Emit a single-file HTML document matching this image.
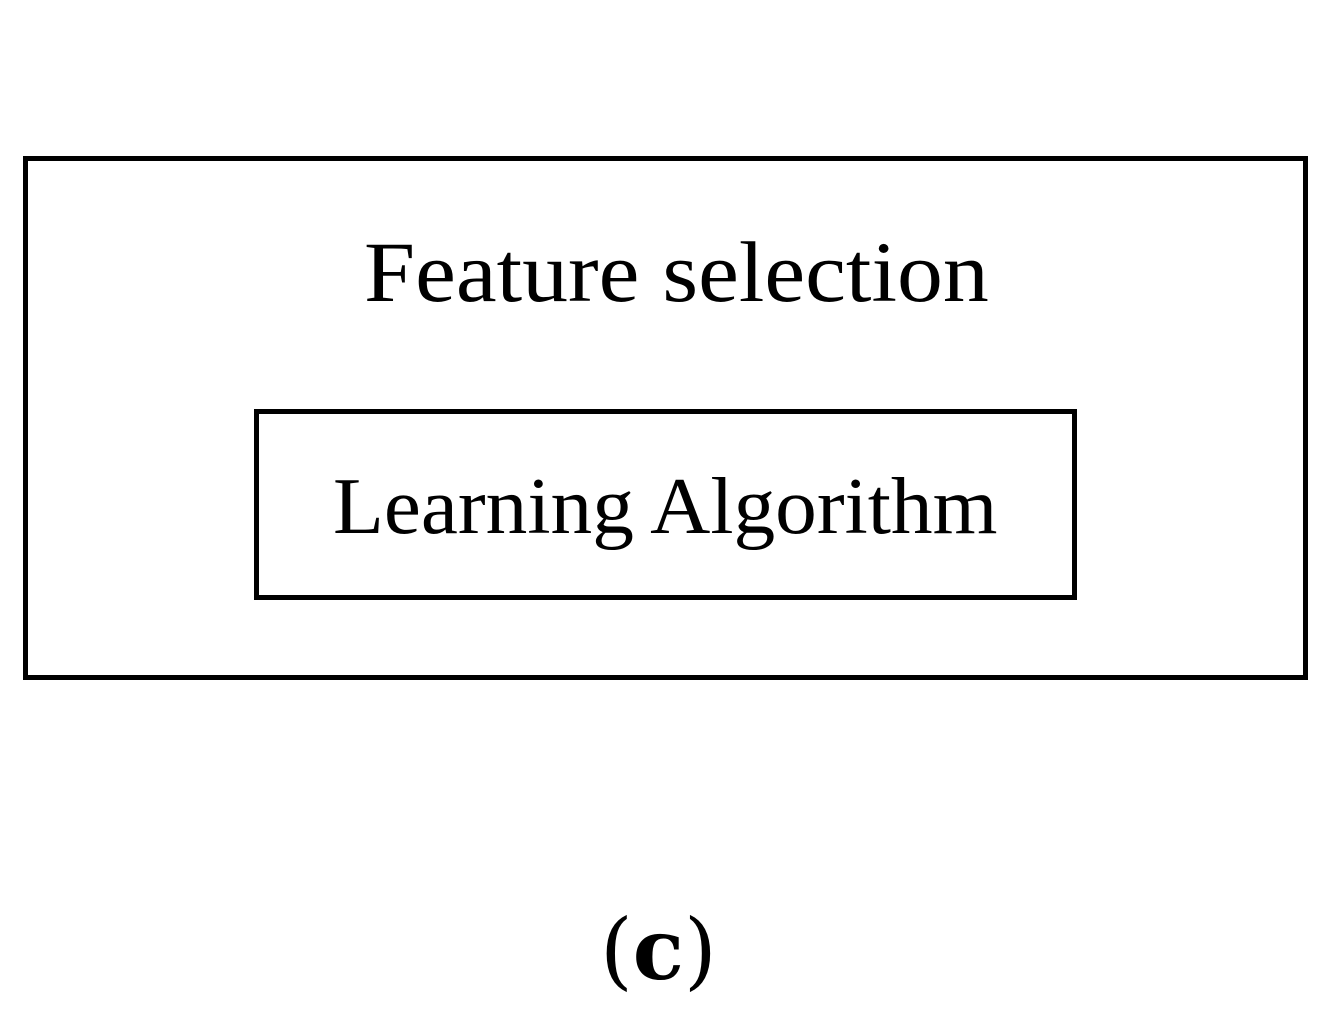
<!DOCTYPE html>
<html><head><style>
html,body{margin:0;padding:0;background:#fff;}
body{width:1331px;height:1033px;position:relative;overflow:hidden;font-family:"Liberation Serif",serif;}
.b{position:absolute;border:5px solid #000;box-sizing:border-box;}
.t{position:absolute;color:#000;white-space:nowrap;transform-origin:0 0;}
</style></head><body>
<div class="b" style="left:23px;top:156px;width:1285px;height:524px;"></div>
<div class="b" style="left:254px;top:409px;width:823px;height:191px;"></div>
<div class="t" style="left:364px;top:222px;font-size:86px;transform:scaleX(1.068);">Feature selection</div>
<div class="t" style="left:333px;top:462px;font-size:80px;transform:scaleX(1.042);">Learning Algorithm</div>
<div class="t" style="left:600px;top:900px;font-size:84px;font-family:'DejaVu Serif',serif;">(<b>c</b>)</div>
</body></html>
